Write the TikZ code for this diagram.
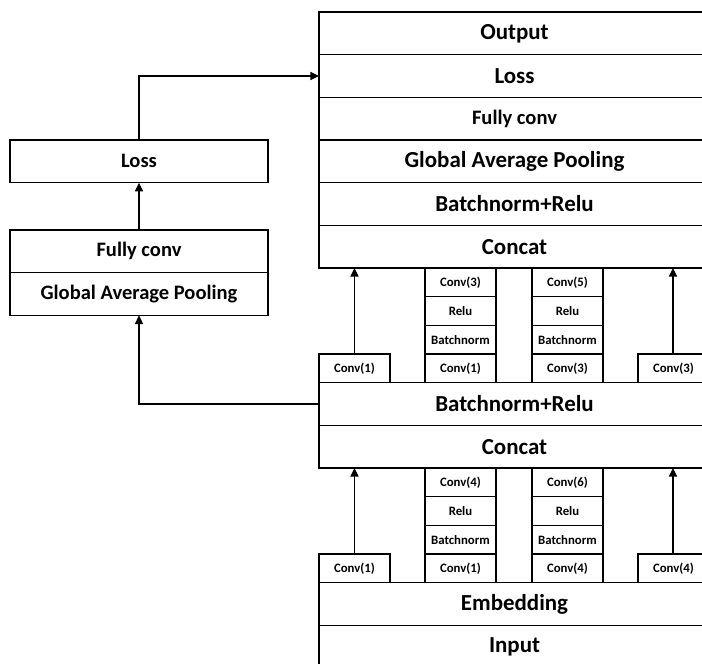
\documentclass[tikz,border=0pt]{standalone}
\usepackage{fontspec}
\setmainfont{Carlito}
\usetikzlibrary{arrows.meta,positioning,calc}

\tikzset{
	layer/.style={draw, line width=1.2pt, outer sep=0pt, inner sep=0pt,
		minimum height=32pt,
		execute at begin node={\hbox to 293.25pt\bgroup\hfil},
		execute at end node={\hfil\egroup\hspace*{30pt}},
		font=\bfseries\fontsize{17.2}{20}\selectfont},
	sidelayer/.style={draw, line width=1.2pt, outer sep=0pt, inner sep=0pt,
		minimum width=193.5pt, minimum height=32pt,
		font=\bfseries\fontsize{15.4}{18}\selectfont},
	cell/.style={draw, line width=1.2pt, outer sep=0pt, inner sep=0pt,
		minimum width=53.25pt, minimum height=21.5pt,
		font=\bfseries\fontsize{9.6}{11}\selectfont},
	edgecell/.style={cell, minimum width=0pt,
		execute at begin node={\hbox to 53.25pt\bgroup\hfil},
		execute at end node={\hfil\egroup\hspace*{20pt}}},
	flow/.style={-{Triangle[length=6.5pt,width=6pt]}, line width=1.2pt}
}

\begin{document}
\begin{tikzpicture}[x=0.75pt, y=-0.75pt]
	\useasboundingbox (0,0) rectangle (702,663);
	% main stack, top
	\node[layer, anchor=north west] (out) at (319,12) {Output};
	\node[layer, below=0pt of out] (loss) {Loss};
	\node[layer, below=0pt of loss, font=\bfseries\fontsize{15.4}{18}\selectfont] (fc) {Fully conv};
	\node[layer, below=0pt of fc] (gap) {Global Average Pooling};
	\node[layer, below=0pt of gap] (bnr1) {Batchnorm+Relu};
	\node[layer, below=0pt of bnr1] (cat1) {Concat};
	% upper block branches
	\node[cell, anchor=north west] (ua1) at ($(cat1.south west)+(106,0)$) {Conv(3)};
	\node[cell, below=0pt of ua1] (ua2) {Relu};
	\node[cell, below=0pt of ua2] (ua3) {Batchnorm};
	\node[cell, below=0pt of ua3] (ua4) {Conv(1)};
	\node[cell, anchor=north west] (ub1) at ($(cat1.south west)+(213,0)$) {Conv(5)};
	\node[cell, below=0pt of ub1] (ub2) {Relu};
	\node[cell, below=0pt of ub2] (ub3) {Batchnorm};
	\node[cell, below=0pt of ub3] (ub4) {Conv(3)};
	% middle layers
	\node[layer, anchor=north west] (bnr2) at (cat1.south west |- ua4.south) {Batchnorm+Relu};
	\node[layer, below=0pt of bnr2] (cat2) {Concat};
	\node[cell, anchor=south west] (uc1) at (bnr2.north west) {Conv(1)};
	\node[edgecell, anchor=south west] (ud1) at ($(bnr2.north west)+(319,0)$) {Conv(3)};
	% lower block branches
	\node[cell, anchor=north west] (la1) at ($(cat2.south west)+(106,0)$) {Conv(4)};
	\node[cell, below=0pt of la1] (la2) {Relu};
	\node[cell, below=0pt of la2] (la3) {Batchnorm};
	\node[cell, below=0pt of la3] (la4) {Conv(1)};
	\node[cell, anchor=north west] (lb1) at ($(cat2.south west)+(213,0)$) {Conv(6)};
	\node[cell, below=0pt of lb1] (lb2) {Relu};
	\node[cell, below=0pt of lb2] (lb3) {Batchnorm};
	\node[cell, below=0pt of lb3] (lb4) {Conv(4)};
	% bottom layers
	\node[layer, anchor=north west] (emb) at (cat2.south west |- la4.south) {Embedding};
	\node[layer, below=0pt of emb] (inp) {Input};
	\node[cell, anchor=south west] (lc1) at (emb.north west) {Conv(1)};
	\node[edgecell, anchor=south west] (ld1) at ($(emb.north west)+(319,0)$) {Conv(4)};
	% auxiliary head
	\node[sidelayer, anchor=north west] (sloss) at (10,140) {Loss};
	\node[sidelayer, anchor=north west] (sfc) at (10,230) {Fully conv};
	\node[sidelayer, below=0pt of sfc] (sgap) {Global Average Pooling};
	% connectors
	\draw[flow] (uc1) -- (uc1 |- cat1.south);
	\draw[flow] (ud1.north -| 673,0) -- (673,0 |- cat1.south);
	\draw[flow] (lc1) -- (lc1 |- cat2.south);
	\draw[flow] (ld1.north -| 673,0) -- (673,0 |- cat2.south);
	\draw[flow] (bnr2.west) -| (sgap.south);
	\draw[flow] (sfc) -- (sloss);
	\draw[flow] (sloss.north) |- (loss.west);
\end{tikzpicture}
\end{document}
